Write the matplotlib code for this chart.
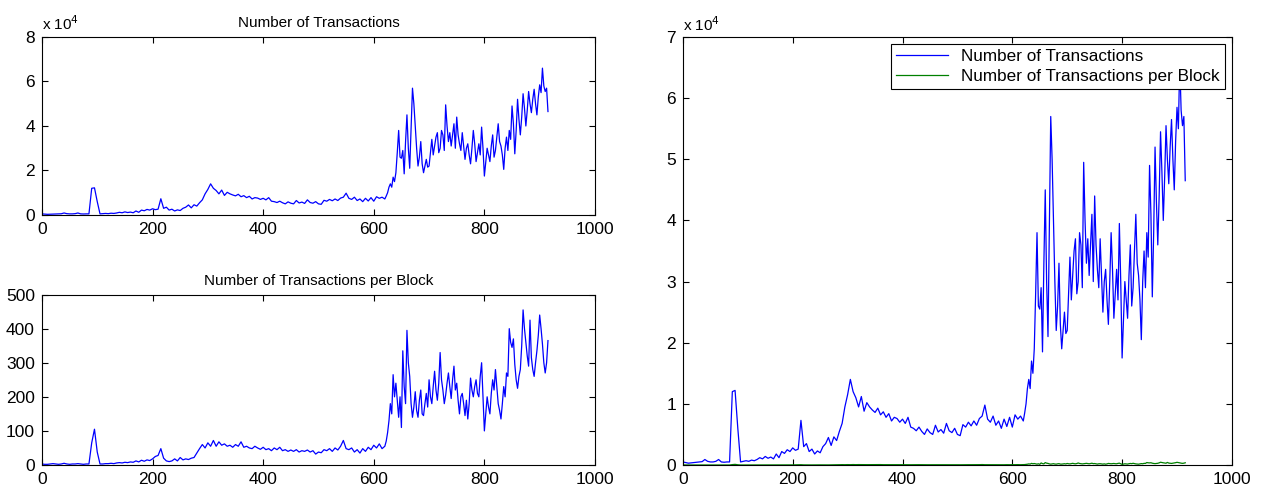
import numpy as np
import matplotlib
matplotlib.use("Agg")
import matplotlib.pyplot as plt
from matplotlib.ticker import FuncFormatter

plt.rcParams['font.family'] = ['Liberation Sans', 'DejaVu Sans']

# day index: every 5 days up to 615, every 2.5 days after (the noisy part)
days = np.concatenate([np.arange(0, 620, 5), np.arange(620, 916, 2.5)])

# number of transactions per day
transactions = [
    500, 400, 300, 350, 400, 450, 500, 550, 900, 600,
    500, 500, 600, 900, 500, 450, 500, 500, 12000, 12200,
    6000, 500, 600, 700, 600, 800, 700, 900, 1200, 1000,
    1400, 1100, 1300, 1000, 1800, 1200, 2200, 1900, 2500, 2200,
    2800, 2400, 2600, 7300, 3000, 3500, 2200, 2600, 1800, 2300,
    2000, 3000, 3500, 4500, 3200, 4600, 4000, 5500, 6800, 9500,
    11500, 14000, 12000, 11000, 9500, 11200, 8800, 10200, 9500, 9000,
    8600, 9300, 8200, 8700, 7800, 8400, 7200, 7800, 7600, 7000,
    7500, 6800, 7800, 6200, 6000, 5600, 6200, 5500, 5000, 5900,
    5300, 5000, 6500, 5400, 5800, 5200, 6800, 5600, 5300, 6000,
    5000, 4800, 6600, 6200, 7000, 6400, 7200, 6500, 7600, 8000,
    9800, 7500, 7000, 8000, 6500, 7200, 6000, 7500, 6300, 7800,
    6200, 8200, 7500, 8000,
    # from day 620, 2.5 day steps
    7200, 8500, 10000, 12500, 14000, 12500, 17000, 15000, 19000, 28000,
    38000, 26000, 25500, 29000, 18500, 33000, 45000, 30000, 21000, 39000,
    57000, 50000, 40000, 30000, 22000, 26000, 33000, 23000, 19000, 22000,
    25000, 21500, 22000, 28000, 34000, 27000, 31000, 35000, 37000, 28000,
    30000, 38000, 36000, 29000, 49500, 40000, 33000, 37000, 31000, 36000,
    41000, 30000, 44000, 36000, 32000, 29000, 37000, 31000, 25000, 30000,
    32000, 27000, 23000, 30000, 38000, 32000, 24000, 28000, 32000, 27000,
    39500, 30000, 17500, 24000, 30000, 27000, 24000, 31000, 36000, 26000,
    29000, 35000, 41000, 33000, 31000, 27000, 20500, 30000, 35000, 29000,
    38000, 34000, 49000, 41000, 27500, 38000, 52000, 43000, 36000, 44000,
    54500, 48000, 40000, 47000, 55500, 50000, 46000, 52000, 56500, 50000,
    45000, 53000, 58500, 55000, 66000, 58000, 55500, 57000, 46500,
]

# number of transactions per block
per_block = [
    3, 2, 2, 3, 4, 3, 2, 3, 5, 3,
    2, 3, 3, 4, 3, 2, 3, 3, 65, 105,
    38, 3, 3, 4, 4, 5, 4, 6, 7, 6,
    8, 7, 9, 8, 12, 9, 14, 11, 15, 13,
    18, 25, 28, 48, 20, 12, 10, 12, 18, 12,
    22, 15, 18, 16, 20, 22, 35, 48, 60, 50,
    65, 55, 72, 55, 68, 58, 62, 55, 58, 52,
    60, 55, 68, 52, 55, 50, 48, 55, 50, 46,
    52, 45, 48, 42, 50, 45, 52, 42, 45, 40,
    44, 40, 45, 38, 42, 40, 44, 38, 42, 32,
    38, 36, 45, 42, 48, 40, 50, 44, 55, 72,
    48, 45, 50, 38, 45, 35, 48, 40, 52, 45,
    58, 50, 62, 48,
    # from day 620, 2.5 day steps
    55, 70, 95, 130, 180, 150, 265, 200, 240, 190,
    140, 200, 110, 335, 230, 180, 395, 300, 260, 180,
    140, 170, 215, 160, 140, 190, 220, 150, 145, 180,
    210, 170, 250, 200, 180, 230, 275, 220, 190, 240,
    330, 250, 220, 180, 205, 240, 270, 230, 195, 250,
    290, 220, 240, 190, 150, 200, 210, 180, 145, 190,
    135, 180, 255, 220, 200, 230, 250, 210, 200, 260,
    300, 200, 100, 150, 200, 170, 150, 210, 250, 220,
    280, 230, 180, 160, 135, 180, 230, 200, 270, 260,
    400, 360, 345, 370, 295, 250, 225, 260, 280, 350,
    455, 400, 360, 320, 290, 425, 315, 280, 260, 300,
    335, 380, 440, 400, 355, 300, 270, 300, 365,
]

blue = (0, 0, 1)
green = (0, 0.5, 0)
tick_fs = 12.5


def matlab_style(ax):
    ax.tick_params(direction='in', top=True, right=True, length=4,
                   width=0.8, labelsize=tick_fs, pad=5)
    for s in ax.spines.values():
        s.set_linewidth(0.8)
    ax.set_xlim(0, 1000)
    ax.set_xticks(range(0, 1001, 200))


sci = FuncFormatter(lambda v, p: '%g' % (v / 1e4))

fig = plt.figure(figsize=(12.67, 4.94), dpi=100)

# top left: number of transactions
ax1 = fig.add_axes([0.0331, 0.5648, 0.4365, 0.3603])
ax1.plot(days, transactions, color=blue, lw=0.9)
matlab_style(ax1)
ax1.set_ylim(0, 80000)
ax1.set_yticks(range(0, 80001, 20000))
ax1.yaxis.set_major_formatter(sci)
ax1.set_title('Number of Transactions', fontsize=11, pad=7)
ax1.text(0, 1.04, r'x 10$^4$', transform=ax1.transAxes, fontsize=11)

# bottom left: transactions per block
ax2 = fig.add_axes([0.0331, 0.0587, 0.4365, 0.345])
ax2.plot(days, per_block, color=blue, lw=0.9)
matlab_style(ax2)
ax2.set_ylim(0, 500)
ax2.set_yticks(range(0, 501, 100))
ax2.set_title('Number of Transactions per Block', fontsize=11, pad=7)

# right: both series on one axis
ax3 = fig.add_axes([0.539, 0.0587, 0.4333, 0.8664])
ax3.plot(days, transactions, color=blue, lw=0.9, label='Number of Transactions')
ax3.plot(days, per_block, color=green, lw=0.9, label='Number of Transactions per Block')
matlab_style(ax3)
ax3.set_ylim(0, 70000)
ax3.set_yticks(range(0, 70001, 10000))
ax3.yaxis.set_major_formatter(sci)
ax3.text(0, 1.015, r'x 10$^4$', transform=ax3.transAxes, fontsize=11)
leg = ax3.legend(loc='upper right', fontsize=12.3, frameon=True, fancybox=False,
                 borderaxespad=0.4, handlelength=3, borderpad=0.3,
                 labelspacing=0.3)
leg.get_frame().set_edgecolor('black')
leg.get_frame().set_linewidth(0.8)
leg.get_frame().set_alpha(1)

fig.savefig('out.png', dpi=100, facecolor='white')
